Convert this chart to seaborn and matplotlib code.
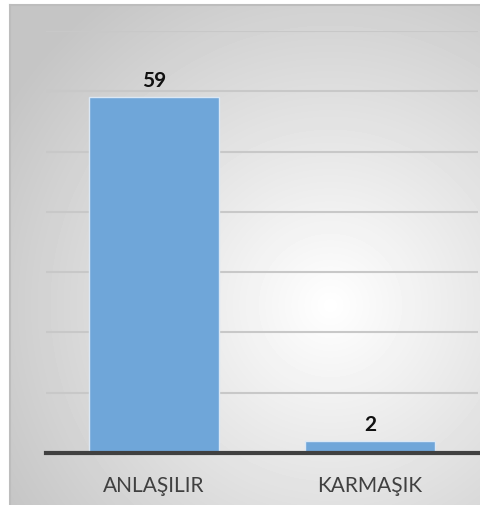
import numpy as np
import pandas as pd
from matplotlib import pyplot as plt
import seaborn as sns

categories = ['ANLAŞILIR', 'KARMAŞIK']
counts = [59, 2]

df = pd.DataFrame({'kategori': categories, 'sayi': counts})

sns.set_style('white')
plt.rcParams['font.family'] = ['Lato', 'DejaVu Sans']

W, H = 480, 506
fig = plt.figure(figsize=(W / 100, H / 100), dpi=100)

# radial grey background, frame only on top and left
bg = fig.add_axes([10 / W, 0, 470 / W, 500 / H])
yy, xx = np.mgrid[0:500, 0:470]
r = np.hypot((xx - 320) / 400, (yy - 300) / 400)
shade = np.clip(1.0 - 0.24 * r, 0.77, 1.0)
bg.imshow(shade, cmap='gray', vmin=0, vmax=1, aspect='auto')
bg.set_xticks([])
bg.set_yticks([])
for name, s in bg.spines.items():
    s.set_color('#bdbdbd')
    s.set_linewidth(1.5)
    if name in ('bottom', 'right'):
        s.set_visible(False)
bg.set_zorder(0)

ax = fig.add_axes([46 / W, (H - 454) / H, 432 / W, (454 - 32) / H])
ax.set_zorder(1)
ax.patch.set_alpha(0)
sns.barplot(data=df, x='kategori', y='sayi', ax=ax, color='#6fa6d9',
            width=0.6, edgecolor='#dbe8f5', linewidth=1, saturation=1, zorder=3)
ax.set_ylim(0, 70)
ax.set_xlim(-0.5, 1.5)
ax.set_yticks(range(0, 71, 10))
ax.yaxis.grid(True, color='#c8c8c8', linewidth=1.5, zorder=0)
ax.tick_params(axis='y', left=False, labelleft=False)
ax.tick_params(axis='x', bottom=False, labelsize=15, labelcolor='#404040', pad=12)
ax.set_xlabel('')
ax.set_ylabel('')
for name in ['top', 'right', 'left']:
    ax.spines[name].set_visible(False)
ax.spines['bottom'].set_color('#404040')
ax.spines['bottom'].set_linewidth(3)
ax.spines['bottom'].set_zorder(4)

for i, v in enumerate(counts):
    ax.text(i, v + 1.2, str(v), ha='center', va='bottom', fontsize=15,
            fontweight='bold', color='#111111')

fig.savefig('out.png', dpi=100)
